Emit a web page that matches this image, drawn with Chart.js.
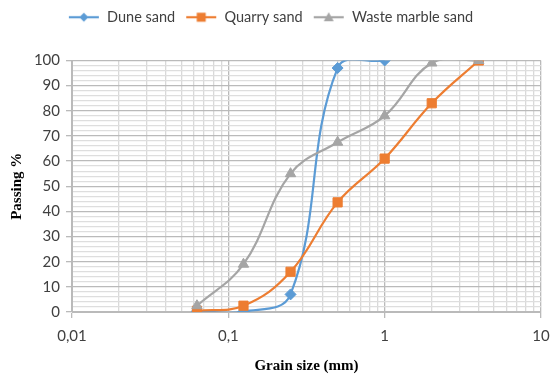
<!DOCTYPE html>
<html>
<head>
<meta charset="utf-8">
<script src="https://cdn.jsdelivr.net/npm/chart.js@4"></script>
<style>
  html,body{margin:0;padding:0;background:#fff;}
  #wrap{width:550px;height:380px;}
</style>
</head>
<body>
<div id="wrap"><canvas id="psd"></canvas></div>
<script>
// sieve openings (mm) and percent passing
const sieves=[0.063,0.125,0.25,0.5,1,2,4];
const duneSand=[0.3,0.2,7,97,100];
const quarrySand=[0.5,2.5,16,43.6,61,83,100];
const marbleSand=[2.5,19,55,67.5,78,99,100];
const decades=[0.01,0.1,1,10];

const blue='#5B9BD5',orange='#ED7D31',grey='#A5A5A5';

function pts(vals){
  let out=[];
  for(let i=0;i<vals.length;i++) out.push({x:sieves[i],y:vals[i]});
  return out;
}

// gridline positions for the log axis: 1..9 in each decade
let xTicks=[];
for(let d=0;d<decades.length-1;d++){
  for(let k=1;k<10;k++) xTicks.push({value:+(decades[d]*k).toPrecision(3),major:k==1});
}
xTicks.push({value:10,major:true});

// legend swatch: short line with the marker in the middle
function swatch(color,shape){
  const c=document.createElement('canvas');
  c.width=32;c.height=12;
  const g=c.getContext('2d');
  g.strokeStyle=color;g.fillStyle=color;g.lineWidth=2.2;
  g.beginPath();g.moveTo(1,6);g.lineTo(31,6);g.stroke();
  g.beginPath();
  if(shape=='diamond'){g.moveTo(16,1.5);g.lineTo(20.5,6);g.lineTo(16,10.5);g.lineTo(11.5,6);}
  else if(shape=='square'){g.rect(11.5,1.5,9,9);}
  else {g.moveTo(16,1);g.lineTo(21,10);g.lineTo(11,10);}
  g.closePath();g.fill();
  return c;
}
const swatches=[swatch(blue,'diamond'),swatch(orange,'square'),swatch(grey,'tri')];

// extra room under the legend
const legendGap={
  id:'legendGap',
  beforeInit(chart){
    const fit=chart.legend.fit;
    chart.legend.fit=function(){fit.bind(chart.legend)();this.height+=26;};
  }
};

new Chart('psd',{
  type:'line',
  plugins:[legendGap],
  data:{
    datasets:[{
      label:'Dune sand',
      data:pts(duneSand),
      borderColor:blue,backgroundColor:blue,
      pointStyle:'rectRot',pointRadius:5.5,
      order:3
    },{
      label:'Quarry sand',
      data:pts(quarrySand),
      borderColor:orange,backgroundColor:orange,
      pointStyle:'rect',pointRadius:6.5,
      order:2
    },{
      label:'Waste marble sand',
      data:pts(marbleSand),
      borderColor:grey,backgroundColor:grey,
      pointStyle:'triangle',pointRadius:6,
      order:1
    }]
  },
  options:{
    responsive:true,
    maintainAspectRatio:false,
    animation:false,
    layout:{padding:{top:0,right:9,left:0,bottom:0}},
    elements:{line:{tension:0.4,borderWidth:2.2,capBezierPoints:false}},
    plugins:{
      tooltip:{enabled:false},
      legend:{
        position:'top',
        labels:{
          usePointStyle:true,
          pointStyleWidth:32,
          boxHeight:12,
          padding:10,
          color:'#404040',
          font:{family:'Lato',size:14.5},
          sort:(a,b)=>a.datasetIndex-b.datasetIndex,
          generateLabels:function(chart){
            let items=Chart.defaults.plugins.legend.labels.generateLabels(chart);
            for(let it of items) it.pointStyle=swatches[it.datasetIndex];
            return items;
          }
        }
      }
    },
    scales:{
      x:{
        type:'logarithmic',
        min:0.01,max:10,
        afterBuildTicks:s=>{s.ticks=xTicks.map(t=>({value:t.value,major:t.major}));},
        afterFit:s=>{s.height=68;s.paddingLeft=0;s.paddingRight=0;},
        grid:{
          color:c=>c.tick&&c.tick.major?'#BABABA':'#D9D9D9',
          tickColor:c=>c.tick&&c.tick.major?'#BABABA':'rgba(0,0,0,0)',
          tickLength:6,
          lineWidth:1.3
        },
        border:{color:'#BABABA'},
        ticks:{
          autoSkip:false,maxRotation:0,padding:9,
          color:'#404040',font:{family:'Lato',size:15},
          callback:v=>decades.includes(v)?String(v).replace('.',','):''
        },
        title:{
          display:true,text:'Grain size (mm)',color:'#000',
          font:{family:'Liberation Serif',size:15,weight:'bold'},
          padding:{top:0,bottom:5}
        }
      },
      y:{
        min:0,max:100,
        afterFit:s=>{s.width=72;},
        grid:{
          color:c=>c.tick&&c.tick.value%10==0?'#BABABA':'#DEDEDE',
          tickColor:c=>c.tick&&c.tick.value%10==0?'#BABABA':'rgba(0,0,0,0)',
          tickLength:6,
          lineWidth:1.3
        },
        border:{color:'#BABABA'},
        ticks:{
          stepSize:2,autoSkip:false,padding:6,
          color:'#404040',font:{family:'Lato',size:15},
          callback:v=>v%10==0?v:''
        },
        title:{
          display:true,text:'Passing %',color:'#000',
          font:{family:'Liberation Serif',size:15,weight:'bold'},
          padding:{top:8,bottom:0}
        }
      }
    }
  }
});
</script>
</body>
</html>
